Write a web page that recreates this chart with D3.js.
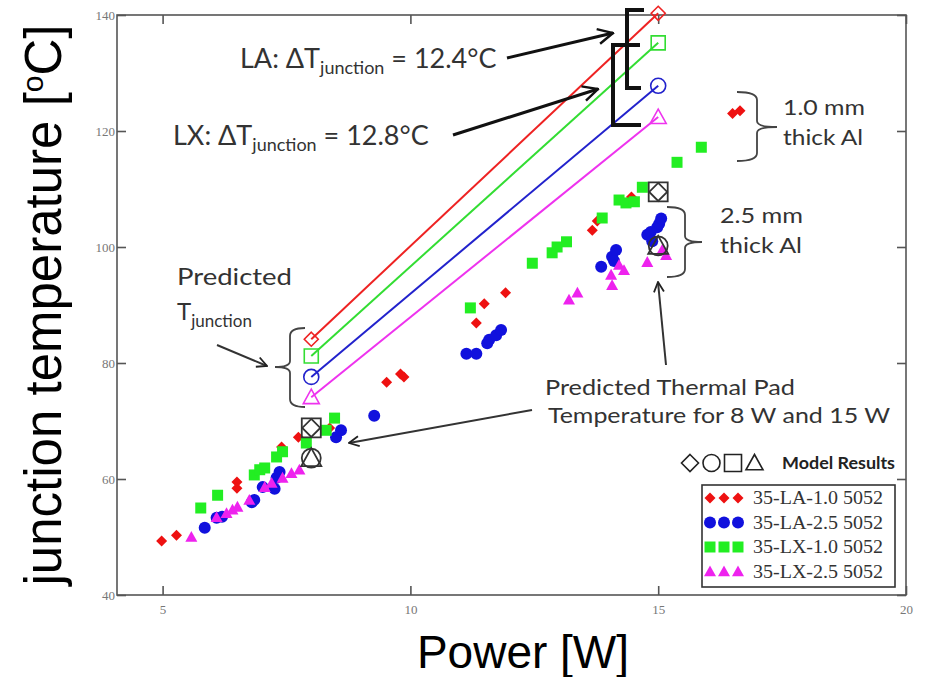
<!DOCTYPE html>
<meta charset="utf-8">
<head>
<style>
  body { margin: 0; background: #fff; }
  .note { font-family: Lato, "Open Sans", sans-serif; fill: #333; }
  .tick text { font-family: "Liberation Serif", "Times New Roman", serif; fill: #777; font-size: 13px; }
</style>
</head>

<!-- Load d3.js -->
<script src="https://d3js.org/d3.v7.min.js"></script>

<body>
  <div id="my_dataviz"></div>
</body>

<script>

// ---- data ----
var xTicks = [5, 10, 15, 20];
var yTicks = [40, 60, 80, 100, 120, 140];

// measured points, power [W] / junction temperature [C]
var la10Power = [4.98, 5.28, 6.5, 6.5, 7.4, 7.74, 8.37, 9.52, 9.8, 9.87, 11.33, 11.49, 11.92, 13.67, 13.77, 14.46, 16.5, 16.65];
var la10Temp  = [49.3, 50.3, 59.5, 58.4, 65.5, 67.2, 68.8, 76.7, 78.1, 77.6, 86.9, 90.2, 92.1, 102.9, 104.5, 108.6, 123.0, 123.5];

var la25Power = [5.85, 6.09, 6.2, 6.85, 6.8, 7.02, 7.26, 7.3, 7.36, 8.5, 8.6, 9.27, 11.13, 11.33, 11.55, 11.59, 11.73, 11.83, 13.85, 14.07, 14.11, 14.15, 14.78, 14.85, 14.88, 14.98, 15.02, 15.06];
var la25Temp  = [51.6, 53.3, 53.5, 56.4, 56.0, 58.6, 58.3, 60.2, 61.2, 67.2, 68.4, 70.9, 81.6, 81.6, 83.4, 84.0, 84.8, 85.7, 96.6, 98.3, 97.6, 99.5, 102.1, 102.6, 101.0, 103.4, 104.0, 104.9];

var lx10Power = [5.77, 6.11, 6.85, 6.96, 7.06, 7.3, 7.42, 7.9, 8.3, 8.47, 11.21, 12.46, 12.86, 12.96, 13.15, 13.87, 14.21, 14.35, 14.52, 14.68, 15.38, 15.87];
var lx10Temp  = [55.0, 57.2, 60.7, 61.6, 61.9, 63.8, 64.7, 66.2, 68.4, 70.5, 89.5, 97.2, 99.0, 100.0, 100.9, 105.0, 108.1, 107.6, 107.8, 110.3, 114.6, 117.2];

var lx25Power = [5.58, 6.09, 6.29, 6.41, 6.51, 6.75, 7.06, 7.2, 7.42, 7.6, 7.76, 13.2, 13.37, 14.05, 14.07, 14.21, 14.31, 14.78, 15.08, 15.16];
var lx25Temp  = [50.0, 53.4, 54.1, 54.7, 55.2, 56.4, 58.6, 59.3, 60.2, 61.0, 61.6, 90.9, 92.1, 95.2, 93.4, 96.9, 96.0, 97.4, 99.5, 98.6];

// model results at 8 W and 15 W
var modelPower = [8, 15];
var predLA10 = [84.1, 140.3];
var predLX10 = [81.2, 135.2];
var predLA25 = [77.6, 127.8];
var predLX25 = [74.1, 122.4];
var padHigh  = [68.8, 109.5];   // square + diamond
var padLow   = [63.6, 100.2];   // circle + triangle

var seriesNames = ["35-LA-1.0 5052", "35-LA-2.5 5052", "35-LX-1.0 5052", "35-LX-2.5 5052"];

// ---- layout ----
var W = 936, H = 677;
var margin = {top: 15, right: 30, bottom: 82, left: 117};
var width = W - margin.left - margin.right,
    height = H - margin.top - margin.bottom;

var svg = d3.select("#my_dataviz")
  .append("svg")
    .attr("width", W)
    .attr("height", H);

var g = svg.append("g")
    .attr("transform", "translate(" + margin.left + "," + margin.top + ")");

var x = d3.scaleLinear().domain([4.08, 20]).range([0, width]);
var y = d3.scaleLinear().domain([40, 140]).range([height, 0]);

// frame
g.append("rect")
  .attr("width", width).attr("height", height)
  .attr("fill", "none").attr("stroke", "#555").attr("stroke-width", 1.6);

function styleAxis(sel) {
  sel.select(".domain").remove();
  sel.selectAll(".tick line").attr("stroke", "#555").attr("stroke-width", 1.6);
}

g.append("g")
  .attr("transform", "translate(0," + height + ")")
  .call(d3.axisBottom(x).tickValues(xTicks).tickSizeInner(-9).tickSizeOuter(0).tickPadding(10))
  .call(styleAxis);
g.append("g")
  .call(d3.axisTop(x).tickValues(xTicks).tickSizeInner(-9).tickSizeOuter(0).tickFormat(""))
  .call(styleAxis);
g.append("g")
  .call(d3.axisLeft(y).tickValues(yTicks).tickSizeInner(-9).tickSizeOuter(0).tickPadding(2))
  .call(styleAxis);
g.append("g")
  .attr("transform", "translate(" + width + ",0)")
  .call(d3.axisRight(y).tickValues(yTicks).tickSizeInner(-9).tickSizeOuter(0).tickFormat(""))
  .call(styleAxis);

// axis titles
svg.append("text")
  .attr("x", 523).attr("y", 668)
  .attr("text-anchor", "middle")
  .style("font-family", "'Liberation Sans', Arial, sans-serif")
  .style("font-size", "46px")
  .text("Power [W]");

var yl = svg.append("text")
  .attr("transform", "translate(61,305) rotate(-90)")
  .attr("text-anchor", "middle")
  .style("font-family", "'Liberation Sans', Arial, sans-serif")
  .style("font-size", "51px");
yl.append("tspan").text("junction temperature [");
yl.append("tspan").attr("dy", -18).style("font-size", "30px").text("o");
yl.append("tspan").attr("dy", 18).text("C]");

// ---- marker shapes ----
function shapePath(type, r) {
  if (type == "diamond") return "M0," + (-r) + "L" + r + ",0L0," + r + "L" + (-r) + ",0Z";
  if (type == "square") return "M" + (-r) + "," + (-r) + "h" + 2 * r + "v" + 2 * r + "h" + (-2 * r) + "Z";
  if (type == "triangle") return "M0," + (-r) + "L" + r + "," + (r * 0.8) + "L" + (-r) + "," + (r * 0.8) + "Z";
  // circle
  return "M" + (-r) + ",0A" + r + "," + r + " 0 1,0 " + r + ",0A" + r + "," + r + " 0 1,0 " + (-r) + ",0Z";
}

var series = [
  {power: la10Power, temp: la10Temp, color: "#ee1111", shape: "diamond", r: 5.5},
  {power: la25Power, temp: la25Temp, color: "#1111dd", shape: "circle", r: 6},
  {power: lx10Power, temp: lx10Temp, color: "#22ee22", shape: "square", r: 5.5},
  {power: lx25Power, temp: lx25Temp, color: "#ee22ee", shape: "triangle", r: 6}
];

series.forEach(function(s) {
  g.append("g")
    .selectAll("path")
    .data(d3.range(s.power.length))
    .enter()
    .append("path")
      .attr("transform", function(i) { return "translate(" + x(s.power[i]) + "," + y(s.temp[i]) + ")"; })
      .attr("d", shapePath(s.shape, s.r))
      .style("fill", s.color);
});

// predicted junction lines
var preds = [
  {temp: predLA10, color: "#ee2222", shape: "diamond", r: 7},
  {temp: predLX10, color: "#33dd33", shape: "square", r: 7},
  {temp: predLA25, color: "#2222cc", shape: "circle", r: 7.5},
  {temp: predLX25, color: "#ee33ee", shape: "triangle", r: 8}
];
var line = d3.line().x(function(i) { return x(modelPower[i]); });

preds.forEach(function(p) {
  g.append("path")
    .attr("d", line.y(function(i) { return y(p.temp[i]); })([0, 1]))
    .attr("fill", "none").attr("stroke", p.color).attr("stroke-width", 2);
  g.selectAll(null)
    .data([0, 1])
    .enter()
    .append("path")
      .attr("transform", function(i) { return "translate(" + x(modelPower[i]) + "," + y(p.temp[i]) + ")"; })
      .attr("d", shapePath(p.shape, p.r))
      .attr("fill", "none").attr("stroke", p.color).attr("stroke-width", 1.6);
});

// thermal pad model results (black)
var pads = [
  {temp: padHigh, shape: "square", r: 9.5},
  {temp: padHigh, shape: "diamond", r: 9},
  {temp: padLow, shape: "circle", r: 9.5},
  {temp: padLow, shape: "triangle", r: 10}
];
pads.forEach(function(p) {
  g.selectAll(null)
    .data([0, 1])
    .enter()
    .append("path")
      .attr("transform", function(i) { return "translate(" + x(modelPower[i]) + "," + y(p.temp[i]) + ")"; })
      .attr("d", shapePath(p.shape, p.r))
      .attr("fill", "none").attr("stroke", "#333").attr("stroke-width", 1.8);
});

// ---- legend ----
var legendShapes = ["diamond", "circle", "square", "triangle"];
svg.append("rect")
  .attr("x", 702).attr("y", 485).attr("width", 193).attr("height", 102)
  .attr("fill", "#fff").attr("stroke", "#333").attr("stroke-width", 1.6);

seriesNames.forEach(function(name, k) {
  var ly = 498 + k * 24.5;
  [710, 724, 738].forEach(function(lx) {
    svg.append("path")
      .attr("transform", "translate(" + lx + "," + ly + ")")
      .attr("d", shapePath(series[k].shape, series[k].r))
      .style("fill", series[k].color);
  });
  svg.append("text")
    .attr("x", 753).attr("y", ly + 6)
    .attr("textLength", 130).attr("lengthAdjust", "spacingAndGlyphs")
    .style("font-family", "'Liberation Serif', 'Times New Roman', serif")
    .style("font-size", "18px").style("fill", "#333")
    .text(name);
});

// model results key
legendShapes.forEach(function(sh, k) {
  svg.append("path")
    .attr("transform", "translate(" + (690 + k * 21.5) + ",463)")
    .attr("d", shapePath(sh, 8.5))
    .attr("fill", "none").attr("stroke", "#222").attr("stroke-width", 1.6);
});
svg.append("text")
  .attr("x", 782).attr("y", 469)
  .attr("textLength", 113).attr("lengthAdjust", "spacingAndGlyphs")
  .attr("class", "note")
  .style("font-size", "17px").style("font-weight", "bold").style("fill", "#222")
  .text("Model Results");

// ---- annotations ----
var defs = svg.append("defs");
defs.append("marker")
  .attr("id", "arrow").attr("viewBox", "0 0 12 12")
  .attr("refX", 11).attr("refY", 6)
  .attr("markerWidth", 12).attr("markerHeight", 12)
  .attr("markerUnits", "userSpaceOnUse")
  .attr("orient", "auto")
  .append("path")
    .attr("d", "M1,1 L11,6 L1,11")
    .attr("fill", "none").attr("stroke", "#222").attr("stroke-width", 1.8);
defs.append("marker")
  .attr("id", "arrowBig").attr("viewBox", "0 0 12 12")
  .attr("refX", 11).attr("refY", 6)
  .attr("markerWidth", 18).attr("markerHeight", 18)
  .attr("markerUnits", "userSpaceOnUse")
  .attr("orient", "auto")
  .append("path")
    .attr("d", "M1,1 L11,6 L1,11")
    .attr("fill", "none").attr("stroke", "#111").attr("stroke-width", 1.6);

function arrow(x1, y1, x2, y2, big) {
  svg.append("line")
    .attr("x1", x1).attr("y1", y1).attr("x2", x2).attr("y2", y2)
    .attr("stroke", big ? "#111" : "#333")
    .attr("stroke-width", big ? 3 : 2)
    .attr("marker-end", big ? "url(#arrowBig)" : "url(#arrow)");
}

function deltaLabel(tx, ty, pre, post) {
  var t = svg.append("text").attr("class", "note")
    .attr("x", tx).attr("y", ty).style("font-size", "27px");
  t.append("tspan").text(pre);
  t.append("tspan").attr("dy", 6).style("font-size", "18px").text("junction");
  t.append("tspan").attr("dy", -6).text(post);
}
deltaLabel(240, 68, "LA: \u0394T", " = 12.4\u00B0C");
deltaLabel(173, 145, "LX: \u0394T", " = 12.8\u00B0C");
arrow(507, 58, 613, 33, true);
arrow(453, 135, 598, 89, true);

// thick square brackets at 15 W
svg.append("path").attr("d", "M644,10 H627 V88 H641")
  .attr("fill", "none").attr("stroke", "#111").attr("stroke-width", 4);
svg.append("path").attr("d", "M640,45 H613 V125 H641")
  .attr("fill", "none").attr("stroke", "#111").attr("stroke-width", 4);

function brace(xa, xb, xt, y1, y2, ym) {
  var d = "M" + xa + "," + y1 + " Q" + xb + "," + y1 + " " + xb + "," + (y1 + 8) +
          " L" + xb + "," + (ym - 6) + " Q" + xb + "," + ym + " " + xt + "," + ym +
          " Q" + xb + "," + ym + " " + xb + "," + (ym + 6) +
          " L" + xb + "," + (y2 - 8) + " Q" + xb + "," + y2 + " " + xa + "," + y2;
  svg.append("path").attr("d", d)
    .attr("fill", "none").attr("stroke", "#444").attr("stroke-width", 1.8);
}
brace(737, 757, 777, 92, 161, 127);
brace(667, 685, 702, 207, 277, 242);
brace(305, 290, 275, 328, 407, 367);

function note(tx, ty, str, len, size) {
  svg.append("text").attr("class", "note")
    .attr("x", tx).attr("y", ty)
    .attr("textLength", len).attr("lengthAdjust", "spacingAndGlyphs")
    .style("font-size", size + "px")
    .text(str);
}
note(783, 115, "1.0 mm", 82, 22);
note(783, 145, "thick Al", 80, 22);
note(720, 223, "2.5 mm", 83, 22);
note(720, 253, "thick Al", 82, 22);
note(177, 285, "Predicted", 115, 24);
var tj = svg.append("text").attr("class", "note")
  .attr("x", 177).attr("y", 320).style("font-size", "24px");
tj.append("tspan").text("T");
tj.append("tspan").attr("dy", 7).style("font-size", "17px").text("junction");
arrow(217, 345, 267, 366, false);

note(545, 395, "Predicted Thermal Pad", 250, 21);
note(548, 423, "Temperature for 8 W and 15 W", 342, 21);
arrow(666, 365, 658, 282, false);
arrow(532, 410, 349, 443, false);

</script>
